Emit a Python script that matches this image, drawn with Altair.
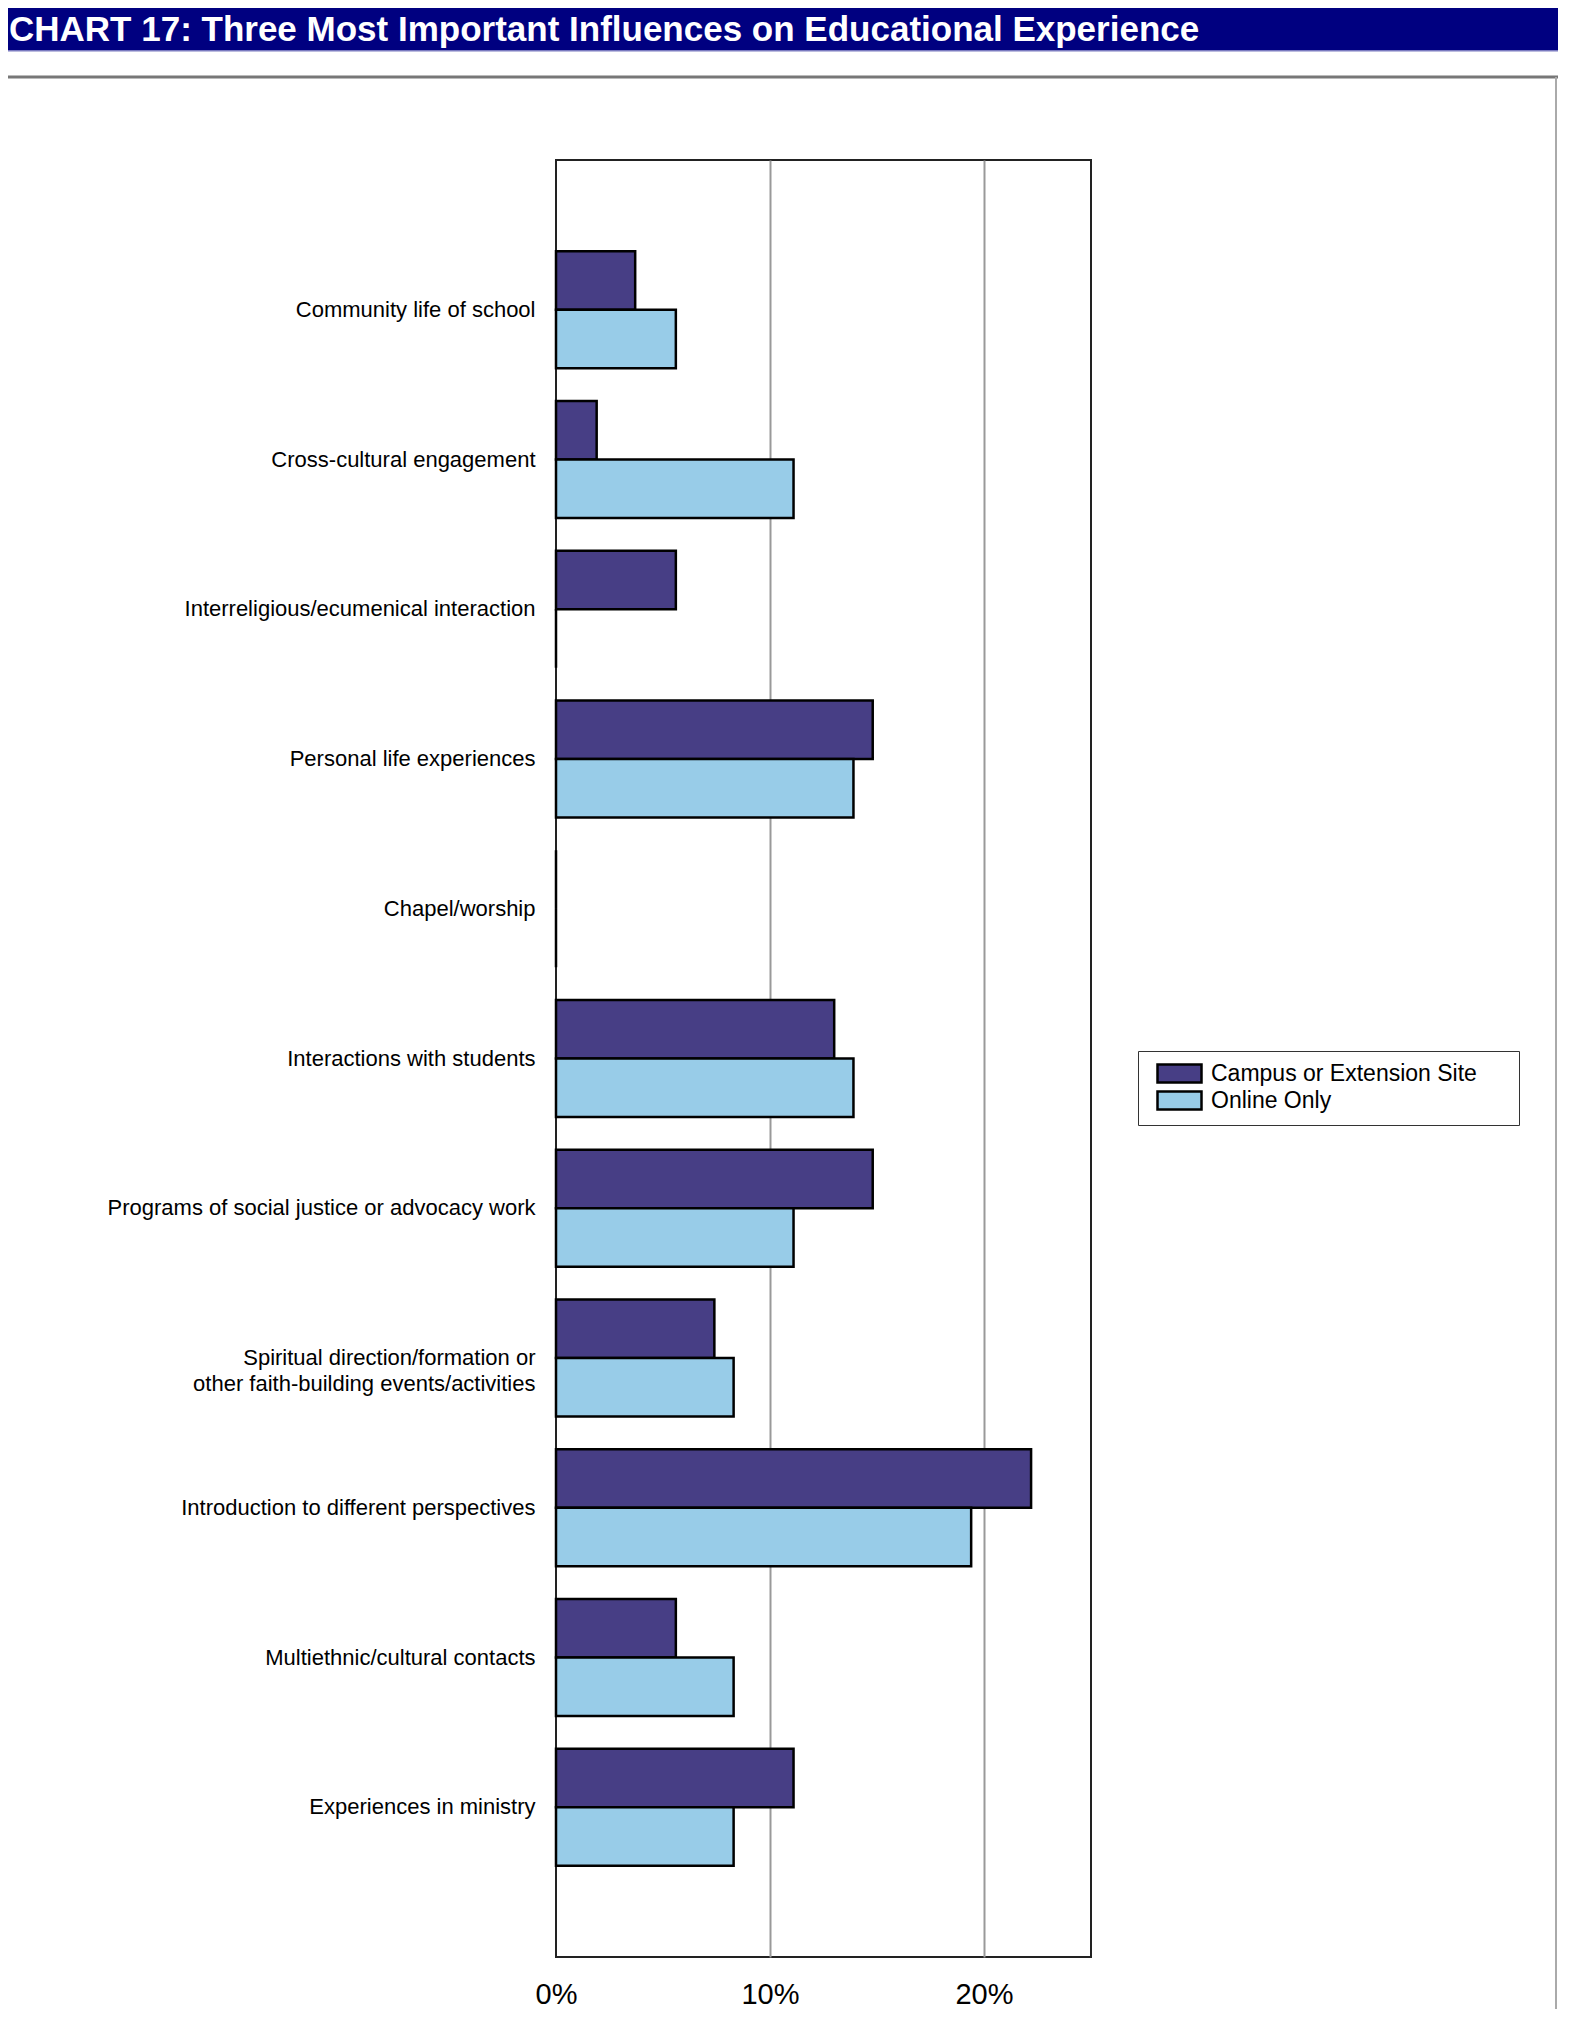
import altair as alt
import pandas as pd

categories = [
    "Community life of school",
    "Cross-cultural engagement",
    "Interreligious/ecumenical interaction",
    "Personal life experiences",
    "Chapel/worship",
    "Interactions with students",
    "Programs of social justice or advocacy work",
    "Spiritual direction/formation or other faith-building events/activities",
    "Introduction to different perspectives",
    "Multiethnic/cultural contacts",
    "Experiences in ministry",
]
series = ["Campus or Extension Site", "Online Only"]
campus = [3.7, 1.9, 5.6, 14.8, 0, 13.0, 14.8, 7.4, 22.2, 5.6, 11.1]
online = [5.6, 11.1, 0, 13.9, 0, 13.9, 11.1, 8.3, 19.4, 8.3, 8.3]
colors = ["#473E85", "#98CCE8"]
x_ticks = [0, 10, 20]
title_text = "CHART 17: Three Most Important Influences on Educational Experience"

rows = []
for c, a, b in zip(categories, campus, online):
    rows.append({"category": c, "series": series[0], "value": a})
    rows.append({"category": c, "series": series[1], "value": b})
df = pd.DataFrame(rows)

FONT = "Liberation Sans"
W, H = 535, 1797
PAD_L, PAD_T = 548, 152
TOTAL_W, TOTAL_H = 1550, 2001
NBSP = "\u00a0"
ZWSP = "\u200b"

y_label_expr = (
    "datum.label == 'Spiritual direction/formation or other faith-building events/activities'"
    " ? ['Spiritual direction/formation or', 'other faith-building events/activities'] : datum.label"
)

bars = alt.Chart(df).mark_bar(stroke="black", strokeWidth=2.5).encode(
    y=alt.Y(
        "category:N",
        sort=categories,
        scale=alt.Scale(paddingInner=0.22, paddingOuter=0.61),
        axis=alt.Axis(
            title=None, labelFontSize=22, labelFont=FONT, labelPadding=21,
            ticks=False, domain=False, grid=False, labelLimit=700,
            labelLineHeight=26, labelColor="black", labelExpr=y_label_expr,
        ),
    ),
    yOffset=alt.YOffset("series:N", sort=series, scale=alt.Scale(paddingInner=0, paddingOuter=0)),
    x=alt.X(
        "value:Q",
        scale=alt.Scale(domain=[0, 25], nice=False),
        axis=alt.Axis(
            title=None, values=x_ticks, labelExpr="datum.value + '%'",
            ticks=False, domain=False, grid=True, gridColor="#999999", gridWidth=2,
            gridOpacity={"condition": {"test": "datum.value === 0", "value": 0}, "value": 1},
            labelFontSize=29, labelFont=FONT, labelPadding=23, labelColor="black",
            labelFlush=False,
        ),
    ),
    color=alt.Color(
        "series:N",
        scale=alt.Scale(domain=series, range=colors),
        legend=alt.Legend(
            title=None, orient="none", legendX=582, legendY=891,
            padding=10, strokeColor="#333333", fillColor="white",
            labelFontSize=23, labelFont=FONT, labelColor="black", labelLimit=500,
            labelExpr="datum.label + '" + NBSP * 5 + ZWSP + "'", labelOffset=19, rowPadding=-2,
            symbolType="M-2,-0.82H2V0.82H-2Z", symbolSize=484, symbolOffset=19,
            symbolStrokeColor="black", symbolStrokeWidth=2.5, symbolOpacity=1,
        ),
    ),
)

deco = pd.DataFrame({"title": [title_text]})
title_bar = alt.Chart(deco).mark_rect(color="#000080").encode(
    x=alt.value(-PAD_L), x2=alt.value(TOTAL_W - PAD_L),
    y=alt.value(-PAD_T), y2=alt.value(-PAD_T + 42),
)
lav_rule = alt.Chart(deco).mark_rule(color="#7A7AC0", strokeWidth=1.5).encode(
    x=alt.value(-PAD_L), x2=alt.value(TOTAL_W - PAD_L), y=alt.value(-PAD_T + 42.7),
)
gray_rule = alt.Chart(deco).mark_rule(color="#777777", strokeWidth=3).encode(
    x=alt.value(-PAD_L), x2=alt.value(TOTAL_W - PAD_L), y=alt.value(-83),
)
right_rule = alt.Chart(deco).mark_rule(color="#AAAAAA", strokeWidth=2).encode(
    x=alt.value(TOTAL_W - PAD_L - 2), y=alt.value(-83), y2=alt.value(TOTAL_H - PAD_T),
)
title_mark = alt.Chart(deco).mark_text(
    align="left", baseline="alphabetic", font=FONT, fontSize=35,
    fontWeight="bold", color="white",
).encode(
    text="title:N", x=alt.value(-PAD_L + 1), y=alt.value(-119),
)

chart = alt.layer(title_bar, lav_rule, gray_rule, right_rule, bars, title_mark).properties(
    width=W,
    height=H,
    padding={"left": PAD_L, "top": PAD_T, "right": TOTAL_W - PAD_L - W, "bottom": TOTAL_H - PAD_T - H},
    autosize=alt.AutoSizeParams(type="none"),
    background="white",
).configure_view(stroke="#222222", strokeWidth=2)

chart.save("out.html", embed_options={"renderer": "svg", "actions": False})
